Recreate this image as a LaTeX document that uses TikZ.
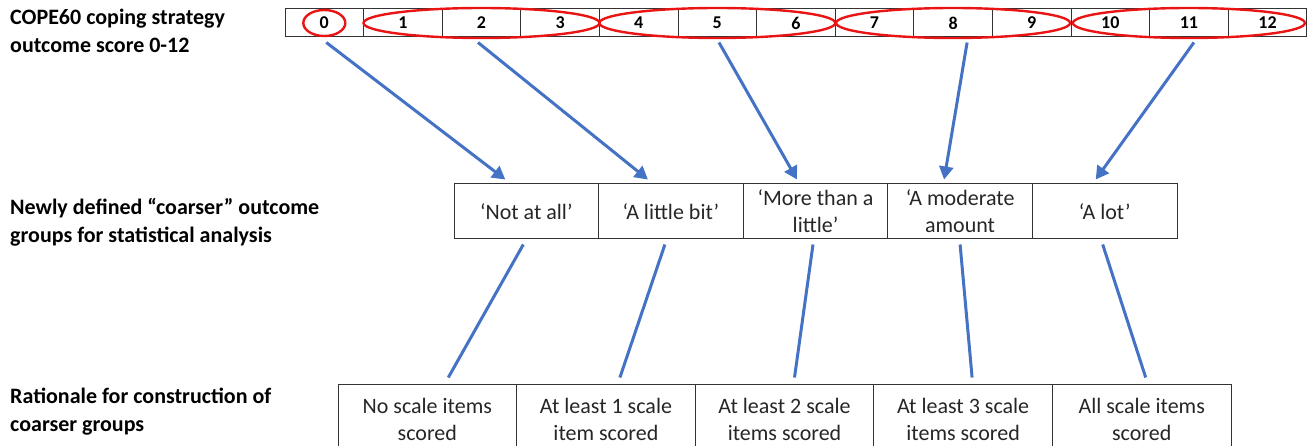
\documentclass[tikz,border=0pt]{standalone}
\usepackage{fontspec}
\setmainfont{Carlito}
\usepackage{tikz}
\usetikzlibrary{arrows.meta}
\definecolor{lineblue}{RGB}{68,114,196}
\definecolor{ringred}{RGB}{235,20,20}

\begin{document}
\begin{tikzpicture}[x=1pt,y=-1pt,
  cell/.style={draw=black!80,line width=1pt,minimum width=78.6pt,minimum height=28pt,inner sep=0pt,font=\fontsize{18}{20}\selectfont\bfseries},
  grp/.style={draw=black!80,line width=1pt,minimum width=144.6pt,minimum height=55pt,inner sep=0pt,align=center,text=black!85,font=\fontsize{22}{27}\selectfont},
  why/.style={draw=black!80,line width=1pt,minimum width=178.6pt,minimum height=70pt,inner sep=0pt,align=center,text=black!85,font=\fontsize{22}{27}\selectfont},
  lab/.style={anchor=west,align=left,inner sep=0pt,font=\fontsize{22}{28}\selectfont\bfseries},
  ring/.style={draw=ringred,line width=2.4pt},
  arr/.style={draw=lineblue,line width=3pt,-{Triangle[length=13pt,width=14pt]}},
  link/.style={draw=lineblue,line width=3pt}]
\useasboundingbox (0,0) rectangle (1316,446);
\clip (0,0) rectangle (1316,446);

% labels on the left
\node[lab] (l1) at (10,31) {COPE60 coping strategy\\outcome score 0-12};
\node[lab] (l2) at (10,222) {Newly defined “coarser” outcome\\groups for statistical analysis};
\node[lab] (l3) at (10,411.5) {Rationale for construction of\\coarser groups};

% score row
\node[cell] (c0) at (324.3,23) {0};
\node[cell] (c1) at (402.9,23) {1};
\node[cell] (c2) at (481.5,23) {2};
\node[cell] (c3) at (560.1,23) {3};
\node[cell] (c4) at (638.7,23) {4};
\node[cell] (c5) at (717.3,23) {5};
\node[cell] (c6) at (795.9,23) {6};
\node[cell] (c7) at (874.5,23) {7};
\node[cell] (c8) at (953.1,23) {8};
\node[cell] (c9) at (1031.7,23) {9};
\node[cell] (c10) at (1110.3,23) {10};
\node[cell] (c11) at (1188.9,23) {11};
\node[cell] (c12) at (1267.5,23) {12};

\draw[ring] (c0) ellipse [x radius=21pt,y radius=13pt];
\draw[ring] (c2) ellipse [x radius=118pt,y radius=15pt];
\draw[ring] (c5) ellipse [x radius=118pt,y radius=15pt];
\draw[ring] (c8) ellipse [x radius=117pt,y radius=15pt];
\draw[ring] (c11) ellipse [x radius=116pt,y radius=15pt];

% coarser groups
\node[grp] (g1) at (526.3,211.5) {‘Not at all’};
\node[grp] (g2) at (670.9,211.5) {‘A little bit’};
\node[grp] (g3) at (815.5,211.5) {‘More than a\\little’};
\node[grp] (g4) at (960.1,211.5) {‘A moderate\\amount};
\node[grp] (g5) at (1104.7,211.5) {‘A lot’};

% rationale
\node[why] (r1) at (427.3,419) {No scale items\\scored};
\node[why] (r2) at (605.9,419) {At least 1 scale\\item scored};
\node[why] (r3) at (784.5,419) {At least 2 scale\\items scored};
\node[why] (r4) at (963.1,419) {At least 3 scale\\items scored};
\node[why] (r5) at (1141.7,419) {All scale items\\scored};

\draw[arr] ([xshift=2pt,yshift=-5pt]c0.south) -- ([xshift=-21pt,yshift=4pt]g1.north);
\draw[arr] ([xshift=-3.5pt,yshift=-5pt]c2.south) -- ([xshift=-23pt,yshift=4pt]g2.north);
\draw[arr] ([xshift=1.7pt,yshift=-5pt]c5.south) -- ([xshift=-18.5pt,yshift=4pt]g3.north);
\draw[arr] ([xshift=14pt,yshift=-5pt]c8.south) -- ([xshift=-16pt,yshift=4pt]g4.north);
\draw[arr] ([xshift=5pt,yshift=-5pt]c11.south) -- ([xshift=-9pt,yshift=4pt]g5.north);

\draw[link] ([xshift=-3pt,yshift=-5pt]g1.south) -- ([xshift=21pt,yshift=6pt]r1.north);
\draw[link] ([xshift=-6pt,yshift=-5pt]g2.south) -- ([xshift=14pt,yshift=6pt]r2.north);
\draw[link] ([xshift=-2.5pt,yshift=-5pt]g3.south) -- ([xshift=10pt,yshift=6pt]r3.north);
\draw[link] ([yshift=-5pt]g4.south) -- ([xshift=9pt,yshift=6pt]r4.north);
\draw[link] ([xshift=-2pt,yshift=-5pt]g5.south) -- ([xshift=4pt,yshift=6pt]r5.north);
\end{tikzpicture}
\end{document}
